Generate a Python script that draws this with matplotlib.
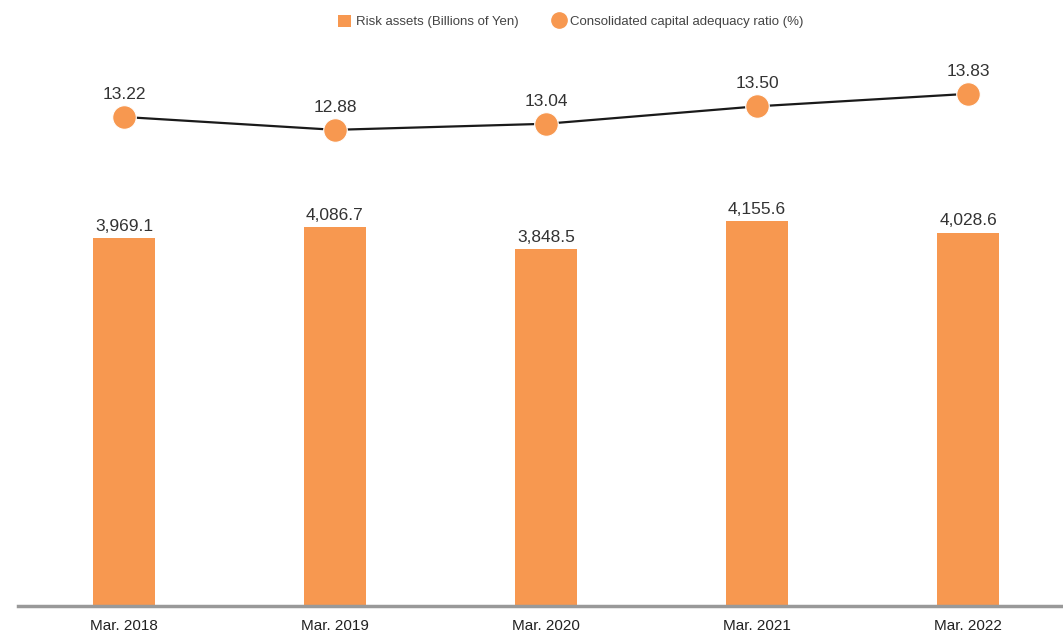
import matplotlib
matplotlib.use("Agg")
import matplotlib.pyplot as plt
from matplotlib.lines import Line2D
from matplotlib.patches import Patch

categories = ["Mar. 2018", "Mar. 2019", "Mar. 2020", "Mar. 2021", "Mar. 2022"]
risk_assets = [3969.1, 4086.7, 3848.5, 4155.6, 4028.6]
ratio = [13.22, 12.88, 13.04, 13.50, 13.83]

plt.rcParams["font.family"] = ["Liberation Sans", "DejaVu Sans"]

orange = "#F79850"
textc = "#333333"

fig = plt.figure(figsize=(10.63, 6.33), dpi=100)
ax = fig.add_axes([18/1063, 27/633, 1 - 18/1063, 566/633])
x = list(range(len(categories)))
ax.bar(x, risk_assets, width=0.29, color=orange, zorder=2)
ax.set_xlim(-0.502, 4.45)
ax.set_ylim(0, 6106)
for xi, v in zip(x, risk_assets):
    ax.annotate(f"{v:,.1f}", (xi, v), xytext=(0, 3), textcoords="offset points",
                ha="center", va="bottom", fontsize=12.5, color=textc)
for s in ["top", "left", "right"]:
    ax.spines[s].set_visible(False)
ax.spines["bottom"].set_color("#999999")
ax.spines["bottom"].set_linewidth(2.5)
ax.set_yticks([])
ax.set_xticks(x)
ax.set_xticklabels(categories, fontsize=11, color="#222222")
ax.tick_params(axis="x", length=0, pad=9)

ax2 = ax.twinx()
ax2.set_ylim(0.32, 15.25)
ax2.plot(x, ratio, color="#1a1a1a", lw=1.6, marker="o", markersize=17,
         markerfacecolor=orange, markeredgecolor="white", markeredgewidth=0.8, zorder=3)
for xi, v in zip(x, ratio):
    ax2.annotate(f"{v:.2f}", (xi, v), xytext=(0, 11), textcoords="offset points",
                 ha="center", va="bottom", fontsize=12.5, color=textc)
ax2.set_yticks([])
for s in ["top", "left", "right", "bottom"]:
    ax2.spines[s].set_visible(False)

handles = [Patch(facecolor=orange, edgecolor="none"),
           Line2D([], [], marker="o", color="none", markerfacecolor=orange,
                  markeredgecolor=orange, markersize=11)]
leg = fig.legend(handles, ["Risk assets (Billions of Yen)", "Consolidated capital adequacy ratio (%)"],
                 loc="upper center", bbox_to_anchor=(0.537, 0.995), ncol=2, frameon=False,
                 prop={"size": 9.5},
                 handlelength=1.0, handleheight=1.0, handletextpad=0.4, columnspacing=2.5,
                 labelcolor="#444444")

fig.savefig("out.png", dpi=100)
